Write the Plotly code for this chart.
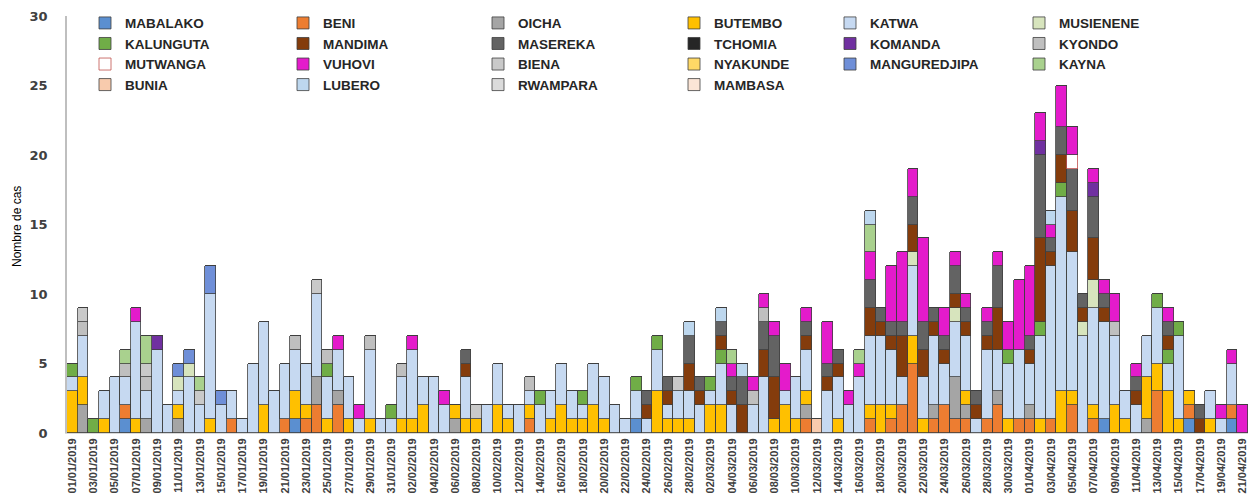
import datetime as dt
import plotly.graph_objects as go

start = dt.date(2019, 1, 1)
DATES = [(start + dt.timedelta(days=i)).strftime("%d/%m/%Y") for i in range(111)]

MABALAKO = [
 0,0,0,0,0,1,0,0,0,0,
 0,0,0,0,0,0,0,0,0,0,
 0,1,0,0,0,0,0,0,0,0,
 0,0,0,0,0,0,0,0,0,0,
 0,0,0,0,0,0,0,0,0,0,
 0,0,0,1,0,0,0,0,0,0,
 0,0,0,0,0,0,0,0,0,0,
 0,0,0,0,0,0,0,0,0,0,
 0,0,0,0,0,0,0,0,0,0,
 0,0,0,0,0,0,0,1,0,0,
 0,0,0,0,0,1,0,0,0,1,
 0]
BENI = [
 0,0,0,0,0,1,0,0,0,0,
 0,0,0,0,0,1,0,0,0,0,
 1,0,1,2,0,2,0,0,0,0,
 0,0,0,0,0,0,0,0,0,0,
 0,0,0,1,0,0,0,0,0,0,
 0,0,0,0,0,0,0,0,0,0,
 0,0,0,0,0,0,0,0,0,1,
 0,0,0,0,0,1,0,1,2,5,
 0,1,2,1,1,0,1,2,0,1,
 1,0,1,0,2,0,1,0,0,0,
 0,0,3,0,0,1,0,0,0,1,
 0]
OICHA = [
 0,2,0,0,0,0,0,1,0,0,
 1,0,0,0,0,0,0,0,0,0,
 0,0,0,2,0,1,0,0,0,0,
 0,0,0,0,0,0,1,0,0,0,
 0,0,0,0,0,0,0,0,0,0,
 0,0,0,0,0,0,0,0,0,0,
 0,0,0,0,0,0,0,0,0,1,
 0,0,0,0,0,0,0,0,0,0,
 0,1,0,3,1,0,0,1,0,0,
 1,0,0,0,0,0,0,0,0,0,
 0,1,0,0,0,0,0,0,0,0,
 0]
BUTEMBO = [
 3,2,0,1,0,0,1,0,0,0,
 1,0,0,1,0,0,0,0,2,0,
 0,2,1,0,1,0,1,0,1,0,
 0,1,1,2,0,0,1,1,1,0,
 2,1,0,1,0,1,2,1,1,2,
 1,0,0,0,0,3,1,1,1,0,
 2,2,0,0,0,0,1,2,1,1,
 0,0,1,0,0,1,2,1,0,2,
 1,0,0,0,1,0,0,0,1,0,
 0,1,0,3,1,0,1,0,2,1,
 0,3,2,3,1,1,0,1,0,0,
 0]
KATWA = [
 1,3,0,2,4,2,7,2,6,2,
 1,4,2,9,2,2,1,5,6,3,
 4,3,3,6,3,3,3,1,5,1,
 1,3,5,2,4,2,0,3,0,2,
 3,1,2,1,2,2,3,2,1,3,
 3,2,1,2,1,3,1,2,2,2,
 1,3,2,0,2,4,0,1,3,3,
 0,3,3,2,4,5,5,4,2,5,
 3,5,3,4,4,1,5,3,4,5,
 3,6,11,14,10,7,7,7,5,2,
 2,3,4,2,6,0,0,2,1,3,
 0]
MUSIENENE = [
 0,0,0,0,0,0,0,0,0,0,
 1,1,0,0,0,0,0,0,0,0,
 0,0,0,0,0,0,0,0,0,0,
 0,0,0,0,0,0,0,0,0,0,
 0,0,0,0,0,0,0,0,0,0,
 0,0,0,0,0,0,0,0,0,0,
 0,0,0,0,0,0,0,0,0,0,
 0,0,0,0,0,0,0,0,0,1,
 0,0,0,1,0,0,0,0,0,0,
 0,0,0,0,0,1,2,0,0,0,
 0,0,0,0,0,0,0,0,0,0,
 0]
KALUNGUTA = [
 1,0,1,0,0,0,0,0,0,0,
 0,0,0,0,0,0,0,0,0,0,
 0,0,0,0,1,0,0,0,0,0,
 1,0,0,0,0,0,0,0,0,0,
 0,0,0,0,1,0,0,0,1,0,
 0,0,0,1,0,1,0,0,0,0,
 1,1,0,0,0,0,0,0,0,0,
 0,0,0,0,0,0,0,0,0,0,
 0,0,0,0,0,0,0,0,1,0,
 0,1,0,1,0,0,0,0,0,0,
 0,0,1,1,1,0,0,0,0,0,
 0]
MANDIMA = [
 0,0,0,0,0,0,0,0,0,0,
 0,0,0,0,0,0,0,0,0,0,
 0,0,0,0,0,0,0,0,0,0,
 0,0,0,0,0,0,0,1,0,0,
 0,0,0,0,0,0,0,0,0,0,
 0,0,0,0,1,0,1,0,2,1,
 0,1,1,2,0,2,3,0,0,1,
 0,1,1,0,0,2,1,1,3,2,
 2,1,1,1,1,1,1,3,0,0,
 1,6,1,2,3,1,3,1,0,0,
 1,0,0,1,0,0,1,0,0,0,
 0]
MASEREKA = [
 0,0,0,0,0,0,0,0,0,0,
 0,0,0,0,0,0,0,0,0,0,
 0,0,0,0,0,0,0,0,0,0,
 0,0,0,0,0,0,0,1,0,0,
 0,0,0,0,0,0,0,0,0,0,
 0,0,0,0,1,0,1,0,2,1,
 0,1,1,2,0,2,3,0,0,1,
 0,1,1,0,0,2,1,1,1,2,
 2,1,1,2,1,1,1,3,0,0,
 1,6,1,2,3,1,3,1,0,0,
 1,0,0,1,0,0,1,0,0,0,
 0]
TCHOMIA = [0] * 111
KOMANDA = [
 0,0,0,0,0,0,0,0,1,0,
 0,0,0,0,0,0,0,0,0,0,
 0,0,0,0,0,0,0,0,0,0,
 0,0,0,0,0,0,0,0,0,0,
 0,0,0,0,0,0,0,0,0,0,
 0,0,0,0,0,0,0,0,0,0,
 0,0,0,0,0,0,0,0,0,0,
 0,0,0,0,0,0,0,0,0,0,
 0,0,0,0,0,0,0,0,0,0,
 0,1,0,0,0,0,1,0,0,0,
 0,0,0,0,0,0,0,0,0,0,
 0]
KYONDO = [
 0,1,0,0,0,1,0,1,0,0,
 0,0,0,0,0,0,0,0,0,0,
 0,1,0,0,1,0,0,0,1,0,
 0,1,0,0,0,0,0,0,0,0,
 0,0,0,1,0,0,0,0,0,0,
 0,0,0,0,0,0,0,0,0,0,
 0,0,0,0,1,1,0,0,0,0,
 0,0,0,0,0,0,0,0,0,0,
 0,0,0,0,0,0,0,0,0,0,
 0,0,0,0,0,0,0,0,1,0,
 0,0,0,0,0,0,0,0,0,0,
 0]
MUTWANGA = [
 0,0,0,0,0,0,0,0,0,0,
 0,0,0,0,0,0,0,0,0,0,
 0,0,0,0,0,0,0,0,0,0,
 0,0,0,0,0,0,0,0,0,0,
 0,0,0,0,0,0,0,0,0,0,
 0,0,0,0,0,0,0,0,0,0,
 0,0,0,0,0,0,0,0,0,0,
 0,0,0,0,0,0,0,0,0,0,
 0,0,0,0,0,0,0,0,0,0,
 0,0,0,0,1,0,0,0,0,0,
 0,0,0,0,0,0,0,0,0,0,
 0]
VUHOVI = [
 0,0,0,0,0,0,1,0,0,0,
 0,0,0,0,0,0,0,0,0,0,
 0,0,0,0,0,1,0,1,0,0,
 0,0,1,0,0,1,0,0,0,0,
 0,0,0,0,0,0,0,0,0,0,
 0,0,0,0,0,0,0,0,0,0,
 0,0,1,0,1,1,1,2,0,1,
 0,3,0,1,1,2,0,4,5,2,
 6,0,2,1,1,0,1,1,2,5,
 5,2,1,3,2,0,1,1,2,0,
 1,0,0,1,0,0,0,0,1,1,
 2]
BIENA = [
 0,1,0,0,0,0,0,1,0,0,
 0,0,1,0,0,0,0,0,0,0,
 0,0,0,1,0,0,0,0,0,0,
 0,0,0,0,0,0,0,0,1,0,
 0,0,0,0,0,0,0,0,0,0,
 0,0,0,0,0,0,0,1,0,0,
 0,0,0,0,0,0,0,0,0,0,
 0,0,0,0,0,0,0,0,0,0,
 0,0,0,0,0,0,0,0,0,0,
 0,0,0,0,0,0,0,0,0,0,
 0,0,0,0,0,0,0,0,0,0,
 0]
NYAKUNDE = [0] * 111
MANGUREDJIPA = [
 0,0,0,0,0,0,0,0,0,0,
 1,1,0,2,1,0,0,0,0,0,
 0,0,0,0,0,0,0,0,0,0,
 0,0,0,0,0,0,0,0,0,0,
 0,0,0,0,0,0,0,0,0,0,
 0,0,0,0,0,0,0,0,0,0,
 0,0,0,0,0,0,0,0,0,0,
 0,0,0,0,0,0,0,0,0,0,
 0,0,0,0,0,0,0,0,0,0,
 0,0,0,0,0,0,0,0,0,0,
 0,0,0,0,0,0,0,0,0,0,
 0]
KAYNA = [
 0,0,0,0,0,1,0,2,0,0,
 0,0,1,0,0,0,0,0,0,0,
 0,0,0,0,0,0,0,0,0,0,
 0,0,0,0,0,0,0,0,0,0,
 0,0,0,0,0,0,0,0,0,0,
 0,0,0,0,0,0,0,0,0,0,
 0,0,1,0,0,0,0,0,0,0,
 0,0,0,0,1,2,0,0,0,0,
 0,0,0,0,0,0,0,0,0,0,
 0,0,0,0,0,0,0,0,0,0,
 0,0,0,0,0,0,0,0,0,0,
 0]
BUNIA = [
 0,0,0,0,0,0,0,0,0,0,
 0,0,0,0,0,0,0,0,0,0,
 0,0,0,0,0,0,0,0,0,0,
 0,0,0,0,0,0,0,0,0,0,
 0,0,0,0,0,0,0,0,0,0,
 0,0,0,0,0,0,0,0,0,0,
 0,0,0,0,0,0,0,0,0,0,
 1,0,0,0,0,0,0,0,0,0,
 0,0,0,0,0,0,0,0,0,0,
 0,0,0,0,0,0,0,0,0,0,
 0,0,0,0,0,0,0,0,0,0,
 0]
LUBERO = [
 0,0,0,0,0,0,0,0,0,0,
 0,0,0,0,0,0,0,0,0,0,
 0,0,0,0,0,0,0,0,0,0,
 0,0,0,0,0,0,0,0,0,0,
 0,0,0,0,0,0,0,0,0,0,
 0,0,0,0,0,0,0,0,1,0,
 0,1,0,1,0,0,0,0,0,0,
 0,0,0,0,0,1,0,0,0,0,
 0,0,0,0,0,0,0,0,0,0,
 0,0,1,0,0,0,0,0,0,0,
 0,0,0,0,0,0,0,0,0,0,
 0]
RWAMPARA = [0] * 111
MAMBASA = [0] * 111

SERIES = [
    ("MABALAKO", MABALAKO, "#5B8FD0", "legend"),
    ("BENI", BENI, "#ED7D31", "legend2"),
    ("OICHA", OICHA, "#A5A5A5", "legend3"),
    ("BUTEMBO", BUTEMBO, "#FFC000", "legend4"),
    ("KATWA", KATWA, "#C6D9F1", "legend5"),
    ("MUSIENENE", MUSIENENE, "#D7E4BD", "legend6"),
    ("KALUNGUTA", KALUNGUTA, "#70AD47", "legend"),
    ("MANDIMA", MANDIMA, "#843C0C", "legend2"),
    ("MASEREKA", MASEREKA, "#636363", "legend3"),
    ("TCHOMIA", TCHOMIA, "#262626", "legend4"),
    ("KOMANDA", KOMANDA, "#7030A0", "legend5"),
    ("KYONDO", KYONDO, "#BFBFBF", "legend6"),
    ("MUTWANGA", MUTWANGA, "#FFFFFF", "legend"),
    ("VUHOVI", VUHOVI, "#E41BCB", "legend2"),
    ("BIENA", BIENA, "#C9C9C9", "legend3"),
    ("NYAKUNDE", NYAKUNDE, "#FFD966", "legend4"),
    ("MANGUREDJIPA", MANGUREDJIPA, "#6F8FD8", "legend5"),
    ("KAYNA", KAYNA, "#A9D18E", "legend6"),
    ("BUNIA", BUNIA, "#F8CBAD", "legend"),
    ("LUBERO", LUBERO, "#BDD7EE", "legend2"),
    ("RWAMPARA", RWAMPARA, "#DBDBDB", "legend3"),
    ("MAMBASA", MAMBASA, "#FBE5D6", "legend4"),
]
for name, vals, _, _ in SERIES:
    assert len(vals) == 111, (name, len(vals))

fig = go.Figure()
for name, vals, color, leg in SERIES:
    lc = "#C0504D" if name == "MUTWANGA" else "#3F3F3F"
    fig.add_trace(go.Bar(
        x=DATES, y=vals, name=name, legend=leg,
        marker=dict(color=color, line=dict(color=lc, width=0.8)),
    ))

# the page body adds an 8 px margin, so the figure is sized/offset for it
OFF = 8
W, H = 1257 - OFF, 502 - OFF
L, R, T, B = 67 - OFF, 9, 16 - OFF, 69
pw = W - L - R
ph = H - T - B

def sx(px):  # screen x -> paper x
    return (px - OFF - L) / pw

def sy(py):  # screen y -> paper y
    return (H - B - (py - OFF)) / ph

col_px = [85, 283, 478, 674, 830, 1019]
leg_font = dict(family="Liberation Sans, Arial, sans-serif", size=13.5, color="#262626", weight="bold")
legends = {}
for i, cx in enumerate(col_px):
    key = "legend" if i == 0 else f"legend{i+1}"
    legends[key] = dict(
        x=sx(cx), y=1.02, xanchor="left", yanchor="top",
        orientation="v", traceorder="normal", font=leg_font,
        bgcolor="rgba(0,0,0,0)", itemwidth=30, tracegroupgap=0,
    )

fig.update_layout(
    width=W, height=H,
    margin=dict(l=L, r=R, t=T, b=B, autoexpand=False),
    barmode="stack", bargap=0,
    plot_bgcolor="white", paper_bgcolor="white",
    showlegend=True,
    xaxis=dict(
        type="category", range=[-0.5, 110.5],
        tickmode="array", tickvals=DATES[::2], ticktext=DATES[::2],
        tickangle=-90, tickfont=dict(family="Liberation Sans, Arial, sans-serif", size=11, color="#404040", weight="bold"),
        showline=True, linecolor="#D9D9D9", ticks="", showgrid=False, automargin=False,
    ),
    yaxis=dict(
        range=[0, 30], tickvals=[0, 5, 10, 15, 20, 25, 30],
        tickfont=dict(family="DejaVu Sans, Verdana, sans-serif", size=13, color="#404040", weight="bold"),
        showline=True, linecolor="#BFBFBF", linewidth=1.5, showgrid=False, zeroline=False,
        ticks="", ticklabelstandoff=15, automargin=False,
    ),
    annotations=[dict(
        text="Nombre de cas", xref="paper", yref="paper",
        x=sx(17), y=sy(227), xanchor="center", yanchor="middle", textangle=-90,
        showarrow=False, font=dict(family="Liberation Sans, Arial, sans-serif", size=12, color="#000000"),
    )],
    **legends,
)

fig.write_html("out.html")
